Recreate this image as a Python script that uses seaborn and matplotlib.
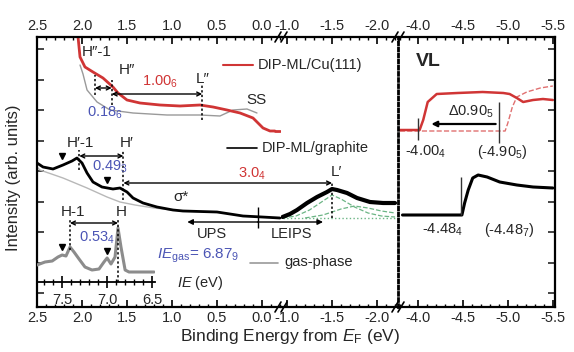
import numpy as np
import seaborn as sns
import matplotlib.pyplot as plt
from matplotlib.ticker import MultipleLocator, FuncFormatter
from matplotlib.lines import Line2D

W, H = 574, 352

# UPS, DIP-ML/Cu(111) (binding energy eV, intensity arb.)
cu_E = [2.044, 2.022, 1.967, 1.878, 1.767, 1.656, 1.60, 1.50, 1.356, 1.133, 0.911,
        0.689, 0.544, 0.389, 0.244, 0.10, -0.011, -0.089, -0.144]
cu_I = [270, 250, 240, 235, 229, 220, 214, 207, 204, 202, 201,
        202, 200, 197, 194, 189, 179, 176, 176]
# bare Cu(111)
cusub_E = [2.022, 1.989, 1.944, 1.833, 1.689, 1.433, 1.056, 0.689, 0.467, 0.322, 0.167, 0.056]
cusub_I = [242, 233, 217, 205, 197, 194, 192, 192, 191, 197, 198, 194]

# UPS, DIP-ML/graphite
gr_E = [2.5, 2.433, 2.322, 2.211, 2.111, 2.056, 2.0, 1.944, 1.878, 1.778, 1.656,
        1.578, 1.5, 1.433, 1.322, 1.167, 0.989, 0.878, 0.5, 0.211, 0.0, -0.2]
gr_I = [144, 140, 138, 142, 146, 149, 144, 134, 125, 120, 118,
        119, 115, 109, 104, 100, 97, 96, 95, 91, 90, 89]
# bare graphite
grsub_E = [2.5, 2.467, 2.211, 1.944, 1.722, 1.578, 1.411, 1.2, 1.0]
grsub_I = [140, 137, 129, 119, 110, 105, 102, 99, 97]

# LEIPS, DIP-ML/graphite
le_E = [-0.95, -1.033, -1.111, -1.222, -1.333, -1.444, -1.50, -1.556, -1.667, -1.778, -1.922, -2.067, -2.2]
le_I = [90, 93, 97, 104, 110, 115, 118, 117, 114, 109, 105, 104, 104]
fit1_E = [-0.95, -1.1, -1.25, -1.4, -1.5, -1.6, -1.75, -1.9, -2.05, -2.2]
fit1_I = [89, 91, 97, 106, 112, 108, 100, 94, 91, 90]
fit2_E = [-1.2, -1.4, -1.6, -1.75, -1.9, -2.05, -2.2]
fit2_I = [89, 92, 98, 101, 99, 96, 94]

# gas phase (ionization energy eV, intensity)
gas_IE = [7.779, 7.69, 7.61, 7.546, 7.50, 7.457, 7.412, 7.368, 7.312, 7.246, 7.168,
          7.09, 7.035, 7.0, 6.957, 6.912, 6.879, 6.846, 6.80, 6.757, 6.635, 6.479]
gas_I = [42, 45, 46, 50, 52, 51, 60, 55, 48, 40, 37,
         38, 45, 49, 43, 50, 79, 60, 37, 35, 35, 35]

# vacuum level (secondary cutoff)
vlcu_E = [-3.80, -4.02, -4.06, -4.11, -4.21, -4.44, -4.72, -4.95, -5.02, -5.10, -5.17, -5.28, -5.39, -5.50]
vlcu_I = [177, 177, 187, 205, 213, 214, 215, 214, 213, 209, 205, 207, 208, 207]
vlcusub_E = [-3.80, -4.97, -5.00, -5.05, -5.10, -5.21, -5.36, -5.50]
vlcusub_I = [176, 176, 184, 200, 210, 215, 219, 221]
vlgr_E = [-3.83, -4.49, -4.52, -4.56, -4.61, -4.67, -4.77, -4.91, -5.10, -5.28, -5.50]
vlgr_I = [92, 92, 104, 117, 129, 132, 130, 125, 122, 120, 119]

# peak positions
H2m1, H2, L2 = 1.856, 1.67, 0.665
H1m1, H1, L1 = 2.03, 1.54, -1.50
gas_Hm1, gas_H = 7.413, 6.879
vl_cu, vl_cusub, vl_gr = -4.004, -4.905, -4.484

RED = "#d03535"
BLUE = "#4b55b5"
GRAY = "#9a9a9a"
GREEN = "#6cb585"

sns.set_style("ticks")
plt.rcParams['font.family'] = ['Liberation Sans', 'DejaVu Sans']
plt.rcParams['mathtext.fontset'] = 'custom'
plt.rcParams['mathtext.rm'] = 'Liberation Sans'
plt.rcParams['mathtext.it'] = 'Liberation Sans:italic'
plt.rcParams['mathtext.bf'] = 'Liberation Sans:bold'


def px(x, y):
    return x / W, 1 - y / H


def box(x0, x1, y0=37, y1=307):
    return [x0 / W, 1 - y1 / H, (x1 - x0) / W, (y1 - y0) / H]


fig = plt.figure(figsize=(W / 100, H / 100), dpi=100)
ax1 = fig.add_axes(box(37, 281))
ax2 = fig.add_axes(box(281, 398))
ax3 = fig.add_axes(box(398, 555))
ax_in = fig.add_axes(box(37, 155, 200, 282))

fmt = FuncFormatter(lambda v, _: f"{v:.1f}".replace("-0.0", "0.0"))
yt = [14, 44, 75, 105, 136, 166, 197, 227, 258]
for ax, lims in [(ax1, (2.5, -0.211)), (ax2, (-0.933, -2.233)), (ax3, (-3.78, -5.524))]:
    ax.patch.set_visible(False)
    ax.set_xlim(*lims)
    ax.set_ylim(0, 270)
    ax.xaxis.set_major_locator(MultipleLocator(0.5))
    ax.xaxis.set_minor_locator(MultipleLocator(0.1))
    ax.xaxis.set_major_formatter(fmt)
    ax.tick_params(axis='x', which='both', direction='in', top=True, bottom=True,
                   labeltop=True, labelsize=10.5, pad=3, color='k')
    ax.tick_params(axis='x', which='major', length=5, width=1.2)
    ax.tick_params(axis='x', which='minor', length=2.5, width=1)
    ax.set_yticks(yt)
    ax.tick_params(axis='y', direction='in', length=5, width=1.2, labelleft=False,
                   left=False, right=False)
    for s in ax.spines.values():
        s.set_color('k')
        s.set_linewidth(1.6)

ax1.tick_params(axis='y', left=True)
ax3.tick_params(axis='y', right=True)
ax1.spines['right'].set_visible(False)
ax2.spines['left'].set_visible(False)
ax2.spines['right'].set_visible(False)
ax3.spines['left'].set_linestyle((0, (1, 1.2)))
ax3.spines['left'].set_linewidth(2)

# --- upper: Cu(111)
sns.lineplot(x=cusub_E, y=cusub_I, ax=ax1, color=GRAY, lw=1, sort=False, estimator=None)
sns.lineplot(x=cu_E, y=cu_I, ax=ax1, color=RED, lw=2, sort=False, estimator=None)
sns.lineplot(x=cu_E[-1:] + [-0.2], y=cu_I[-1:] * 2, ax=ax1, color=RED, lw=2, sort=False, estimator=None)

# --- lower: graphite
sns.lineplot(x=grsub_E, y=grsub_I, ax=ax1, color="#b8b8b8", lw=1, sort=False, estimator=None)
sns.lineplot(x=gr_E, y=gr_I, ax=ax1, color='k', lw=2, sort=False, estimator=None)
ax1.plot([2.22, 1.72], [151, 127], 'kv', ms=4.5)

# --- LEIPS
ax2.plot([-0.95, -2.2], [89, 89], color=GREEN, lw=1, ls=':')
sns.lineplot(x=fit1_E, y=fit1_I, ax=ax2, color=GREEN, lw=0.9, ls='--', sort=False, estimator=None)
sns.lineplot(x=fit2_E, y=fit2_I, ax=ax2, color=GREEN, lw=0.9, ls='--', sort=False, estimator=None)
sns.lineplot(x=le_E, y=le_I, ax=ax2, color='k', lw=3, sort=False, estimator=None)

# --- gas phase inset
ax_in.patch.set_visible(False)
ax_in.set_xlim(7.779, 6.468)
ax_in.set_ylim(25, 107)
for k in ['top', 'left', 'right']:
    ax_in.spines[k].set_visible(False)
ax_in.spines['bottom'].set_linewidth(1.3)
ax_in.spines['bottom'].set_color('k')
ax_in.set_yticks([])
ax_in.xaxis.set_major_locator(MultipleLocator(0.5))
ax_in.xaxis.set_minor_locator(MultipleLocator(0.1))
ax_in.xaxis.set_major_formatter(FuncFormatter(lambda v, _: f"{v:.1f}"))
ax_in.tick_params(axis='x', which='both', direction='inout', labelsize=10.5, pad=4, color='k')
ax_in.tick_params(axis='x', which='major', length=8, width=1.2)
ax_in.tick_params(axis='x', which='minor', length=5, width=1)
sns.lineplot(x=gas_IE, y=gas_I, ax=ax_in, color="#8c8c8c", lw=2.2, sort=False, estimator=None)
ax_in.plot([7.50, 7.0], [60, 56], 'kv', ms=4.5)

# --- VL panel
sns.lineplot(x=vlcusub_E, y=vlcusub_I, ax=ax3, color="#e07070", lw=1, ls='--', sort=False, estimator=None)
sns.lineplot(x=vlcu_E, y=vlcu_I, ax=ax3, color=RED, lw=1.8, sort=False, estimator=None)
sns.lineplot(x=vlgr_E, y=vlgr_I, ax=ax3, color='k', lw=2.2, sort=False, estimator=None)
ax3.vlines([vl_cu], 167, 189, color='#333333', lw=1)
ax3.vlines([vl_cusub], 164, 205, color='#333333', lw=1)
ax3.vlines([vl_gr], 92, 130, color='#333333', lw=1)
ax3.annotate('', xy=(-4.15, 183), xytext=(vl_cusub + 0.04, 183),
             arrowprops=dict(arrowstyle='-|>', color='k', lw=1.6, mutation_scale=8,
                             shrinkA=0, shrinkB=0))

# --- peak markers
dot = dict(color='k', lw=1.1, linestyles=(0, (1.5, 1.5)))
ax1.vlines([H2m1], 212, 232, **dot)
ax1.vlines([H2], 202, 227, **dot)
ax1.vlines([L2], 187, 222, **dot)
ax1.vlines([H1m1], 137, 157, **dot)
ax1.vlines([H1], 107, 157, **dot)
ax2.vlines([L1], 89, 125, **dot)
ax_in.vlines([gas_Hm1], 57, 89, **dot)
ax_in.vlines([gas_H], 25, 89, **dot)
ax1.vlines([0.05], 79, 100, color='k', lw=1)

arr = dict(arrowstyle='<->', color='k', lw=1, mutation_scale=7, shrinkA=0, shrinkB=0)
ax1.annotate('', xy=(H2, 219), xytext=(H2m1, 219), arrowprops=arr)
ax1.annotate('', xy=(L2, 213), xytext=(H2, 213), arrowprops=arr)
ax1.annotate('', xy=(H1, 151), xytext=(H1m1, 151), arrowprops=arr)
ax1.annotate('', xy=(L1, 124), xycoords=ax2.transData, xytext=(H1, 124),
             textcoords=ax1.transData, arrowprops=arr)
ax_in.annotate('', xy=(gas_H, 84), xytext=(gas_Hm1, 84), arrowprops=arr)
one = dict(arrowstyle='-|>', color='k', lw=1, mutation_scale=8, shrinkA=0, shrinkB=0)
ax1.annotate('', xy=(0.83, 85), xytext=(0.05, 85), arrowprops=one)
ax1.annotate('', xy=(-1.40, 85), xycoords=ax2.transData, xytext=(0.05, 85),
             textcoords=ax1.transData, arrowprops=one)

# --- axis breaks
for xb in [281, 398]:
    for yb in [37, 307]:
        for dx in [-3, 3]:
            x0, y0 = px(xb + dx - 3, yb + 5)
            x1, y1 = px(xb + dx + 3, yb - 5)
            fig.add_artist(Line2D([x0, x1], [y0, y1], color='k', lw=1.2))


def t(x, y, s, size=10, ha='center', **kw):
    fig.text(*px(x, y), s, ha=ha, va='center', fontsize=size, **kw)


t(97, 52, "H\u2033-1", 11)
t(127, 70, "H\u2033", 11)
t(160, 82, "1.00$_6$", 10.5, color=RED)
t(203, 79, "L\u2033", 11)
t(105, 113, "0.18$_6$", 10.5, color=BLUE)
t(256, 100, "SS", 11)
fig.add_artist(Line2D([px(223, 0)[0], px(253, 0)[0]], [px(0, 65)[1]] * 2, color=RED, lw=1.5))
t(258, 65, "DIP-ML/Cu(111)", 10.5, ha='left')
t(80, 143, "H\u2032-1", 11)
t(127, 143, "H\u2032", 11)
t(110, 167, "0.49$_3$", 10.5, color=BLUE)
t(252, 174, "3.0$_4$", 10.5, color=RED)
fig.add_artist(Line2D([px(227, 0)[0], px(257, 0)[0]], [px(0, 148)[1]] * 2, color='k', lw=1.2))
t(262, 148, "DIP-ML/graphite", 10.5, ha='left')
t(336, 172, "L\u2032", 11)
t(181, 197, "\u03c3*", 11)
t(212, 234, "UPS", 10.5)
t(292, 234, "LEIPS", 10.5)
t(73, 212, "H-1", 11)
t(121, 212, "H", 11)
t(97, 238, "0.53$_4$", 10.5, color=BLUE)
t(198, 256, r"$IE_{\rm gas}$= 6.87$_9$", 11, color=BLUE)
fig.add_artist(Line2D([px(250, 0)[0], px(278, 0)[0]], [px(0, 263)[1]] * 2, color=GRAY, lw=1.2))
t(284, 262, "gas-phase", 10.5, ha='left')
t(200, 283, r"$IE$ (eV)", 10.5)
t(428, 62, "VL", 14, weight='bold')
t(471, 112, "\u03940.90$_5$", 10.5)
t(425, 152, "-4.00$_4$", 10.5)
t(502, 152, "(-4.90$_5$)", 10.5)
t(442, 230, "-4.48$_4$", 10.5)
t(509, 230, "(-4.48$_7$)", 10.5)

t(290, 336, "Binding Energy from $E_{\\rm F}$ (eV)", 12.5)
fig.text(*px(14, 178), "Intensity (arb. units)", rotation=90, ha='center', va='center', fontsize=12)

fig.savefig("out.png", dpi=100)
